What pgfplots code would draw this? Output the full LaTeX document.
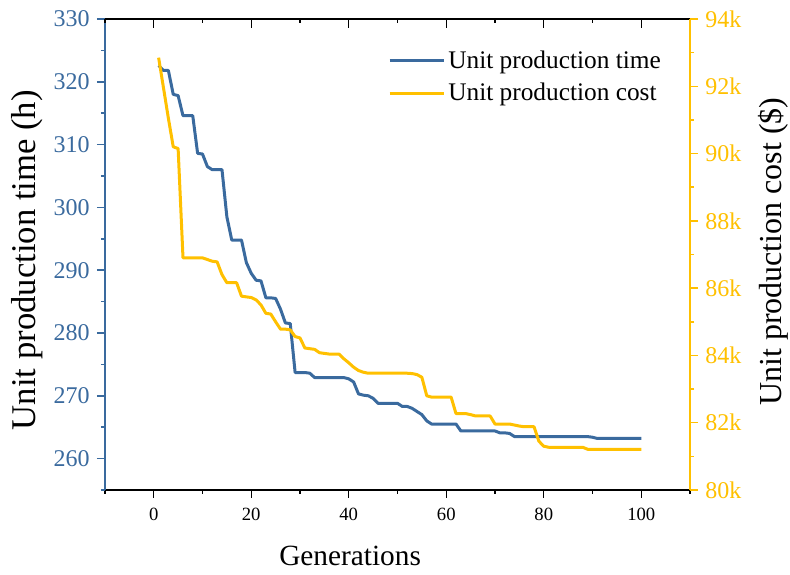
\documentclass[border=0pt]{standalone}
\usepackage{pgfplots}
\pgfplotsset{compat=1.18}
\usepackage{fontspec}
\setmainfont{Liberation Serif}
\definecolor{cblue}{HTML}{3A6A9E}
\definecolor{cgold}{HTML}{FFC000}
\pgfplotstableread{
g t
1 322.6
2 321.8
3 321.8
4 318.0
5 317.8
6 314.6
7 314.6
8 314.6
9 308.6
10 308.5
11 306.5
12 306.0
13 306.0
14 306.0
15 298.5
16 294.8
17 294.8
18 294.8
19 291.2
20 289.5
21 288.4
22 288.3
23 285.6
24 285.6
25 285.5
26 283.8
27 281.6
28 281.5
29 273.7
30 273.7
31 273.7
32 273.6
33 272.9
34 272.9
35 272.9
36 272.9
37 272.9
38 272.9
39 272.9
40 272.7
41 272.2
42 270.3
43 270.1
44 270.0
45 269.6
46 268.8
47 268.8
48 268.8
49 268.8
50 268.8
51 268.3
52 268.3
53 268.0
54 267.5
55 267.0
56 266.0
57 265.5
58 265.5
59 265.5
60 265.5
61 265.5
62 265.5
63 264.4
64 264.4
65 264.4
66 264.4
67 264.4
68 264.4
69 264.4
70 264.4
71 264.1
72 264.1
73 264.0
74 263.5
75 263.5
76 263.5
77 263.5
78 263.5
79 263.5
80 263.5
81 263.5
82 263.5
83 263.5
84 263.5
85 263.5
86 263.5
87 263.5
88 263.5
89 263.5
90 263.4
91 263.2
92 263.2
93 263.2
94 263.2
95 263.2
96 263.2
97 263.2
98 263.2
99 263.2
100 263.2
}\timetable
\pgfplotstableread{
g c
1 92.85
2 91.95
3 91.05
4 90.20
5 90.15
6 86.90
7 86.90
8 86.90
9 86.90
10 86.90
11 86.85
12 86.80
13 86.78
14 86.40
15 86.16
16 86.16
17 86.16
18 85.76
19 85.74
20 85.72
21 85.65
22 85.50
23 85.25
24 85.23
25 85.00
26 84.78
27 84.78
28 84.76
29 84.56
30 84.52
31 84.22
32 84.20
33 84.18
34 84.08
35 84.06
36 84.04
37 84.04
38 84.04
39 83.90
40 83.78
41 83.65
42 83.55
43 83.50
44 83.47
45 83.47
46 83.47
47 83.47
48 83.47
49 83.47
50 83.47
51 83.47
52 83.47
53 83.46
54 83.43
55 83.35
56 82.80
57 82.76
58 82.76
59 82.76
60 82.76
61 82.76
62 82.27
63 82.27
64 82.27
65 82.24
66 82.20
67 82.20
68 82.20
69 82.20
70 81.96
71 81.96
72 81.96
73 81.96
74 81.93
75 81.90
76 81.88
77 81.88
78 81.88
79 81.45
80 81.30
81 81.27
82 81.27
83 81.27
84 81.27
85 81.27
86 81.27
87 81.27
88 81.27
89 81.21
90 81.21
91 81.21
92 81.21
93 81.21
94 81.21
95 81.21
96 81.21
97 81.21
98 81.21
99 81.21
100 81.21
}\costtable
\pgfplotsset{
  common/.style={
    scale only axis, width=438.75pt, height=353.25pt,
    xmin=-10, xmax=110,
    major tick length=6pt, minor tick length=3pt,
    /pgf/number format/assume math mode=true,
    clip=false,
  },
}
\begin{document}
\begin{tikzpicture}
\begin{axis}[common,
  name=ax,
  axis x line*=bottom, axis y line*=left,
  ymin=255, ymax=330,
  xtick={0,20,...,100}, minor xtick={-10,10,...,110},
  ytick={260,270,...,330}, minor ytick={255,265,...,325},
  tick align=outside,
  x axis line style={black, line width=0.9pt},
  y axis line style={cblue, line width=1.1pt},
  x tick style={black, line width=0.9pt},
  y tick style={cblue, line width=1.1pt},
  xticklabel style={font=\fontsize{14}{16}\selectfont, yshift=-4pt},
  yticklabel style={font=\fontsize{18}{20}\selectfont, text=cblue, xshift=-2pt},
  xlabel={Generations},
  xlabel style={font=\fontsize{22}{26}\selectfont, at={(axis description cs:0.419,-0.14)}, anchor=center},
  ylabel={Unit production time (h)},
  ylabel style={font=\fontsize{26}{30}\selectfont, at={(axis description cs:-0.133,0.488)}, anchor=center},
  legend style={draw=none, fill=none, font=\fontsize{19}{23}\selectfont,
    at={(axis description cs:0.962,0.945)}, anchor=north east,
    legend cell align=left, row sep=6pt},
  legend image code/.code={\draw[#1] (0pt,0pt) -- (41pt,0pt);},
]
\addplot[cblue, line width=2.25pt, line join=round] table[x=g, y=t] {\timetable};
\addlegendentry{Unit production time}
\addlegendimage{cgold, line width=2.25pt}
\addlegendentry{Unit production cost}
\coordinate (SW) at (rel axis cs:0,0);
\coordinate (NE) at (rel axis cs:1,1);
\end{axis}
\begin{axis}[common,
  axis x line*=top, axis y line=none,
  ymin=255, ymax=330,
  xtick={0,20,...,100}, minor xtick={-10,10,...,110},
  xticklabels={}, ytick=\empty,
  tick align=inside,
  x axis line style={black, line width=0.9pt},
  x tick style={black, line width=0.9pt},
  major tick length=7pt,
]
\end{axis}
\begin{axis}[common,
  axis x line=none, axis y line*=right,
  ymin=80, ymax=94,
  ytick={80,82,...,94}, minor ytick={81,83,...,93},
  yticklabels={80k,82k,84k,86k,88k,90k,92k,94k},
  tick align=outside,
  y axis line style={cgold, line width=1.1pt},
  y tick style={cgold, line width=1.1pt},
  yticklabel style={font=\fontsize{18}{20}\selectfont, text=cgold, xshift=2pt},
  ylabel={Unit production cost (\$)},
  ylabel style={font=\fontsize{24}{28}\selectfont, at={(axis description cs:1.142,0.506)}, anchor=center},
]
\addplot[cgold, line width=2.25pt, line join=round] table[x=g, y=c] {\costtable};
\end{axis}
\pgfresetboundingbox
\path[use as bounding box] ([xshift=-78.75pt,yshift=-63.75pt]SW) rectangle ([xshift=75pt,yshift=14.25pt]NE);
\end{tikzpicture}
\end{document}
